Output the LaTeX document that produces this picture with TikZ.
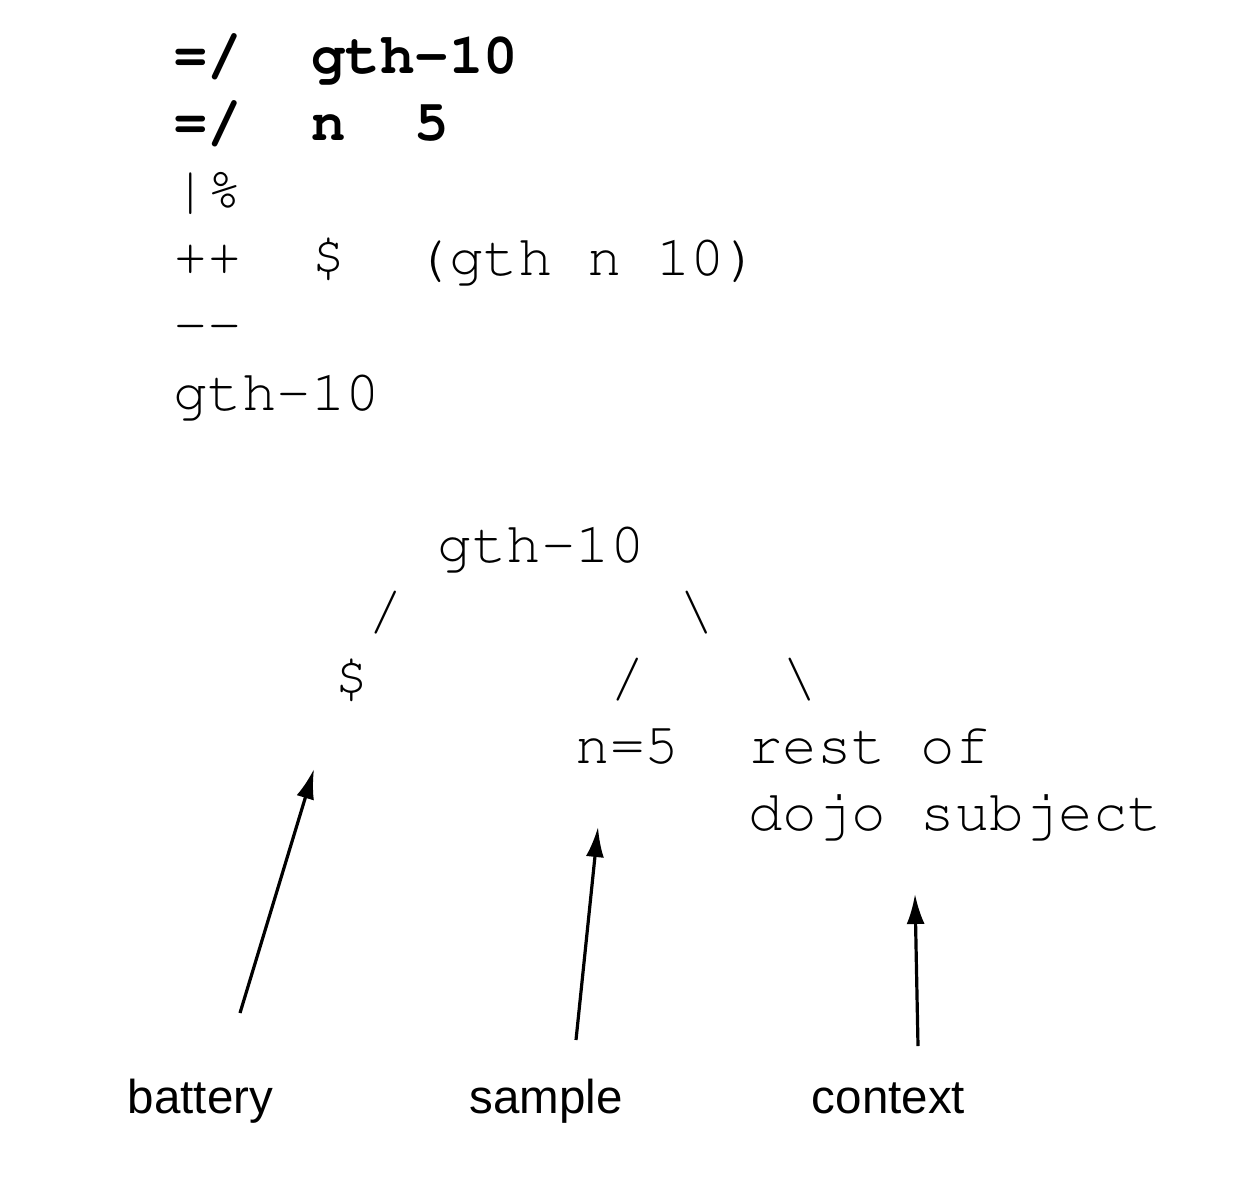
\documentclass[tikz,border=0pt]{standalone}
\usepackage[T1]{fontenc}
\usepackage{fontspec}
\setsansfont{Liberation Sans}
\usetikzlibrary{arrows.meta}
% Courier-style typewriter face for the code and the tree
\newcommand\courfam{\fontencoding{T1}\fontfamily{pcr}\fontseries{m}\fontshape{n}\fontsize{57.5}{67.4}\selectfont}
\newcommand\courbold{\courfam\bfseries}
\newcommand\labelfam{\sffamily\fontsize{47.5}{57}\selectfont}
\tikzset{
  pointertip/.tip={Latex[length=30pt,width=18pt]},
}
\begin{document}
\begin{tikzpicture}[x=1pt,y=-1pt,
  code/.style={inner sep=0pt, outer sep=0pt, anchor=base west, font=\courfam},
  boldcode/.style={code, font=\courbold},
  caption/.style={inner sep=0pt, anchor=base, font=\labelfam},
  pointer/.style={line width=3.2pt, -pointertip}]
\useasboundingbox (0,0) rectangle (1244,1176);

% code listing
\node[boldcode] (l1) at (173,73)    {=/~~gth-10};
\node[boldcode] (l2) at (173,140.4) {=/~~n~~5};
\node[code]     (l3) at (173,207.8) {|\%};
\node[code]     (l4) at (173,275.2) {++~~\$~~(gth~n~10)};
\node[code]     (l5) at (173,342.6) {-{}-};
\node[code]     (l6) at (173,410)   {gth-10};

% tree, one character column = 34.5
\node[code] (root)   at (437.5,562)   {gth-10};
\node[code] (sl1)    at (368.5,629)   {/};
\node[code] (bs1)    at (679,629)     {\textbackslash};
\node[code] (bat)    at (334,696)     {\$};
\node[code] (sl2)    at (610,696)     {/};
\node[code] (bs2)    at (782.5,696)   {\textbackslash};
\node[code] (smp)    at (575.5,763.5) {n=5};
\node[code] (ctx1)   at (748,763.5)   {rest~of};
\node[code] (ctx2)   at (748,830.8)   {dojo~subject};

% captions
\node[caption] (battery) at (200.5,1113) {battery};
\node[caption] (sample)  at (546,1113)   {sample};
\node[caption] (context) at (888.5,1113) {context};

% pointers
\coordinate (bt-tail) at (240,1013);
\coordinate (bt-tip)  at (314,769);
\coordinate (sm-tail) at (576,1040);
\coordinate (sm-tip)  at (598,827);
\coordinate (cx-tail) at (918,1046);
\coordinate (cx-tip)  at (915,894);
\draw[pointer] (bt-tail) -- (bt-tip);
\draw[pointer] (sm-tail) -- (sm-tip);
\draw[pointer] (cx-tail) -- (cx-tip);
\end{tikzpicture}
\end{document}
